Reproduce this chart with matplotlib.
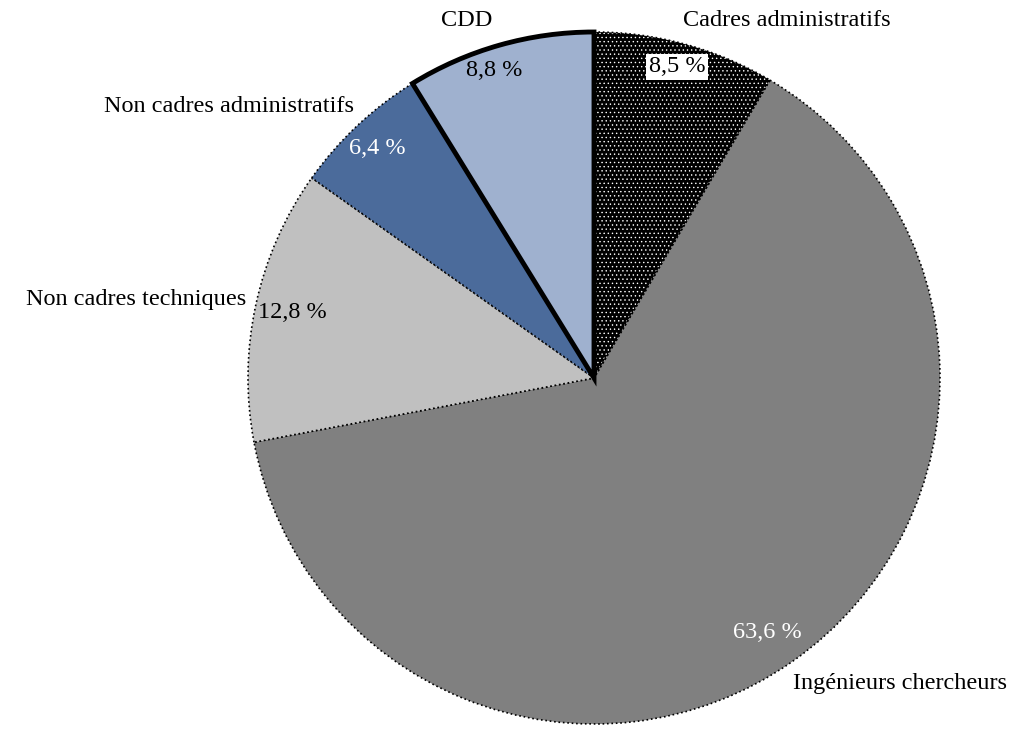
import matplotlib.pyplot as plt
from matplotlib.patches import Wedge

# Data
categories = ['Cadres administratifs', 'Ingénieurs chercheurs', 'Non cadres techniques',
              'Non cadres administratifs', 'CDD']
shares = [8.5, 63.6, 12.8, 6.4, 8.8]
colors = ['black', '#808080', '#c0c0c0', '#4b6b9b', '#9fb1cf']
pct_colors = ['black', 'white', 'black', 'white', 'black']

# Layout (pixels, origin top-left)
W, H = 1032, 738
cx, cy, R = 594, 378, 346
label_xy = [(787, 20, 'center'), (793, 683, 'left'), (246, 299, 'right'),
            (354, 107, 'right'), (467, 20, 'center')]
pct_xy = [(677, 67), (767, 633), (292, 312), (377, 149), (494, 70)]

plt.rcParams['font.family'] = ['Liberation Serif', 'DejaVu Serif']
plt.rcParams['hatch.linewidth'] = 0.5
fig = plt.figure(figsize=(W / 100, H / 100), dpi=100)
ax = fig.add_axes([0, 0, 1, 1])
ax.set_xlim(0, W)
ax.set_ylim(H, 0)
ax.set_aspect('equal')
ax.axis('off')

# wedges go clockwise from 12 o'clock; y axis is inverted so angles are mirrored
start = -90.0
for i, (cat, v) in enumerate(zip(categories, shares)):
    sweep = v / sum(shares) * 360
    t1, t2 = start, start + sweep
    if i == 0:
        w = Wedge((cx, cy), R, t1, t2, facecolor='black', edgecolor='white',
                  hatch='....', linewidth=0, zorder=1)
        ax.add_patch(w)
        ax.add_patch(Wedge((cx, cy), R, t1, t2, facecolor='none', edgecolor='black',
                           linestyle=':', linewidth=1.2, zorder=2))
    elif cat == 'CDD':
        ax.add_patch(Wedge((cx, cy), R, t1, t2, facecolor=colors[i], edgecolor='black',
                           linewidth=3.5, zorder=3, joinstyle='miter'))
    else:
        ax.add_patch(Wedge((cx, cy), R, t1, t2, facecolor=colors[i], edgecolor='black',
                           linestyle=':', linewidth=1.2, zorder=1))
    start = t2

    lx, ly, ha = label_xy[i]
    ax.text(lx, ly, cat, ha=ha, va='center', fontsize=17.5, color='black', zorder=5)
    px, py = pct_xy[i]
    txt = f'{v:.1f} %'.replace('.', ',')
    bbox = dict(facecolor='white', edgecolor='none', pad=2) if i == 0 else None
    ax.text(px, py, txt, ha='center', va='center', fontsize=17.5,
            color=pct_colors[i], bbox=bbox, zorder=5)

fig.savefig('out.png', dpi=100)
